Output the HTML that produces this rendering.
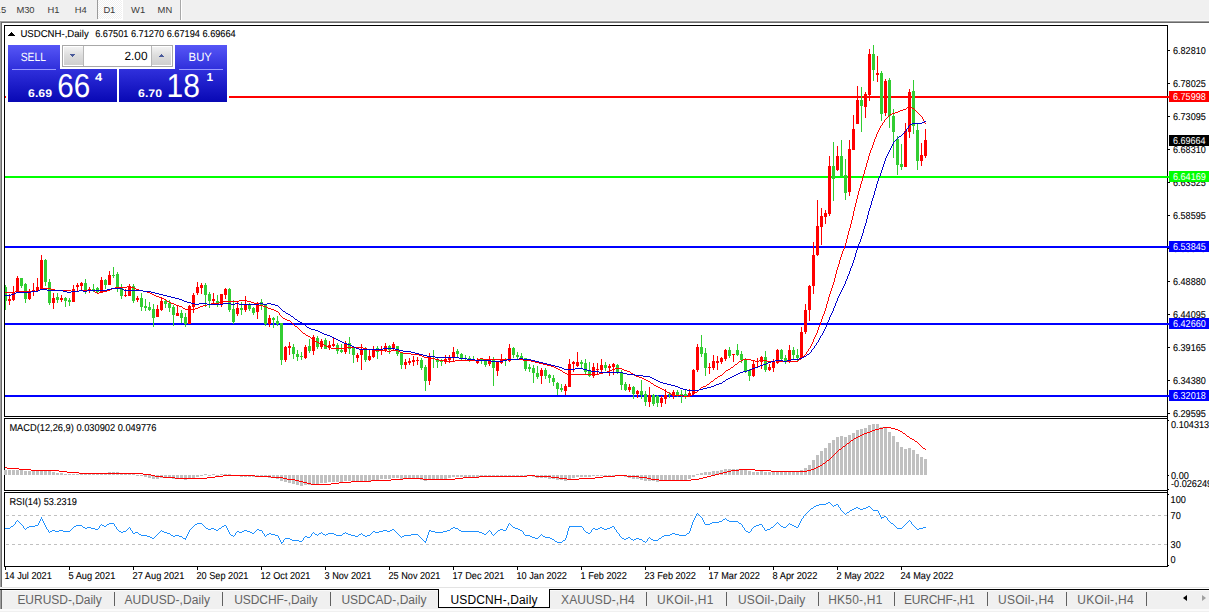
<!DOCTYPE html>
<html lang="en"><head><meta charset="utf-8"><title>USDCNH-,Daily</title>
<style>
html,body{margin:0;padding:0;background:#f0f0f0;}
body{width:1209px;height:612px;overflow:hidden;position:relative;font-family:"Liberation Sans",sans-serif;}
.toolbar{position:absolute;left:0;top:0;width:1209px;height:20px;background:#f0f0f0;}
.toolbar .hl{position:absolute;left:0;top:20px;width:1209px;height:1px;background:#f8f8f8}
.tf{position:absolute;top:3.5px;height:12px;line-height:12px;font-size:9.4px;color:#3a3a3a;white-space:nowrap;}
.tsep{position:absolute;top:0;width:1px;background:#9a9a9a}
.d1{position:absolute;left:98px;top:0;width:24px;height:19px;background:#f0f0f0 conic-gradient(#fff 25%,#f0f0f0 0 50%,#fff 0 75%,#f0f0f0 0) 0 0/2px 2px;border-right:1px solid #fff;border-bottom:1px solid #fff}
.chart{position:absolute;left:0;top:0;width:1209px;height:612px}
.chart svg{display:block;font-family:"Liberation Sans",sans-serif;text-rendering:geometricPrecision}
.tabs{position:absolute;left:0;top:589px;width:1209px;height:23px;background:#f0f0f0}
.tabs .line{position:absolute;left:0;top:0;width:1209px;height:1px;background:#000}
.tabs .hl{position:absolute;left:2px;top:1px;width:1209px;height:1px;background:#fafafa}
.tabs .lb{position:absolute;left:0;top:1px;width:1px;height:19px;background:#a0a0a0}
.tabs .lb2{position:absolute;left:1px;top:1px;width:1px;height:19px;background:#696969}
.tabs .foot{position:absolute;left:0;top:20px;width:1209px;height:2px;background:#fbfbfb}
.tab{position:absolute;top:3px;height:16px;line-height:16px;font-size:12px;color:#646464;white-space:nowrap;}
.tab.active{color:#000}
.abox{position:absolute;left:438px;top:0px;width:110px;height:18px;background:#fff;border:1px solid #000;border-top:none}
.sep{position:absolute;top:3px;width:1px;height:14px;background:#606060}
.arl{position:absolute;left:1183px;top:6px;width:0;height:0;border-top:3.5px solid transparent;border-bottom:3.5px solid transparent;border-right:4px solid #000}
.arr{position:absolute;left:1202px;top:6px;width:0;height:0;border-top:3.5px solid transparent;border-bottom:3.5px solid transparent;border-left:4px solid #a0a0a0}
</style></head>
<body>
<div class="toolbar">
<div class="d1"></div>
<i class="tsep" style="left:97px;height:19px"></i>
<i class="tsep" style="left:180px;height:21px;background:#a8a8a8"></i>
<i class="tsep" style="left:181px;height:21px;background:#fff"></i>
<span class="tf" style="left:-4.5px;letter-spacing:0.181px">15</span>
<span class="tf" style="left:16.5px;letter-spacing:-0.183px">M30</span>
<span class="tf" style="left:47.6px;letter-spacing:-0.192px">H1</span>
<span class="tf" style="left:74.8px;letter-spacing:0.008px">H4</span>
<span class="tf" style="left:103.6px;letter-spacing:-0.292px">D1</span>
<span class="tf" style="left:131.1px;letter-spacing:-0.031px">W1</span>
<span class="tf" style="left:157.6px;letter-spacing:0.053px">MN</span>
<div class="hl"></div>
</div>
<div class="chart">
<svg width="1209" height="612" viewBox="0 0 1209 612" shape-rendering="crispEdges" font-size="10">
<defs>
<clipPath id="cpm"><rect x="5" y="26" width="1162" height="390"/></clipPath>
<linearGradient id="gb" x1="0" y1="0" x2="0" y2="1"><stop offset="0" stop-color="#5656f6"/><stop offset="1" stop-color="#3030dc"/></linearGradient>
<linearGradient id="gb2" x1="0" y1="0" x2="0" y2="1"><stop offset="0" stop-color="#3030dc"/><stop offset="1" stop-color="#0808b4"/></linearGradient>
<linearGradient id="gg" x1="0" y1="0" x2="0" y2="1"><stop offset="0" stop-color="#f2f2f2"/><stop offset="0.5" stop-color="#dcdcdc"/><stop offset="1" stop-color="#cfcfcf"/></linearGradient>
</defs>
<rect x="0" y="21" width="1209" height="1" fill="#a0a0a0"/>
<rect x="1" y="22" width="1208" height="1" fill="#696969"/>
<rect x="0" y="21" width="1" height="566" fill="#a0a0a0"/>
<rect x="1" y="22" width="1" height="565" fill="#696969"/>
<rect x="2" y="23" width="1207" height="564" fill="#ffffff"/>
<rect x="2" y="587" width="1207" height="1" fill="#e3e3e3"/>
<rect x="2" y="588" width="1207" height="1" fill="#ffffff"/>
<rect x="4" y="25" width="1163" height="1" fill="#000"/>
<rect x="4" y="416" width="1164" height="1" fill="#000"/>
<rect x="4" y="25" width="1" height="392" fill="#000"/>
<rect x="4" y="418" width="1163" height="1" fill="#000"/>
<rect x="4" y="490" width="1164" height="1" fill="#000"/>
<rect x="4" y="418" width="1" height="73" fill="#000"/>
<rect x="4" y="492" width="1163" height="1" fill="#000"/>
<rect x="4" y="566" width="1164" height="1" fill="#000"/>
<rect x="4" y="492" width="1" height="75" fill="#000"/>
<rect x="1167" y="25" width="1" height="542" fill="#000"/>
<rect x="5" y="96" width="1164" height="2" fill="#ff0000"/>
<rect x="5" y="176" width="1164" height="2" fill="#00ff00"/>
<rect x="5" y="246" width="1164" height="2" fill="#0000ff"/>
<rect x="5" y="323" width="1164" height="2" fill="#0000ff"/>
<rect x="5" y="395" width="1164" height="2" fill="#0000ff"/>
<g id="main" clip-path="url(#cpm)">
<rect x="5" y="285" width="1" height="25" fill="#32cd32"/><rect x="4" y="287" width="3" height="14" fill="#32cd32"/><rect x="9" y="294" width="1" height="11" fill="#ff0000"/><rect x="8" y="299" width="3" height="2" fill="#ff0000"/><rect x="13" y="286" width="1" height="15" fill="#ff0000"/><rect x="12" y="292" width="3" height="8" fill="#ff0000"/><rect x="17" y="276" width="1" height="16" fill="#ff0000"/><rect x="16" y="278" width="3" height="13" fill="#ff0000"/><rect x="21" y="278" width="1" height="10" fill="#32cd32"/><rect x="20" y="278" width="3" height="8" fill="#32cd32"/><rect x="25" y="283" width="1" height="20" fill="#32cd32"/><rect x="24" y="284" width="3" height="15" fill="#32cd32"/><rect x="29" y="289" width="1" height="11" fill="#ff0000"/><rect x="28" y="291" width="3" height="8" fill="#ff0000"/><rect x="33" y="283" width="1" height="13" fill="#ff0000"/><rect x="32" y="290" width="3" height="2" fill="#ff0000"/><rect x="37" y="278" width="1" height="14" fill="#ff0000"/><rect x="36" y="287" width="3" height="4" fill="#ff0000"/><rect x="41" y="255" width="1" height="35" fill="#ff0000"/><rect x="40" y="260" width="3" height="29" fill="#ff0000"/><rect x="45" y="259" width="1" height="27" fill="#32cd32"/><rect x="44" y="260" width="3" height="22" fill="#32cd32"/><rect x="49" y="279" width="1" height="26" fill="#32cd32"/><rect x="48" y="282" width="3" height="21" fill="#32cd32"/><rect x="53" y="293" width="1" height="16" fill="#ff0000"/><rect x="52" y="298" width="3" height="5" fill="#ff0000"/><rect x="57" y="293" width="1" height="10" fill="#32cd32"/><rect x="56" y="297" width="3" height="3" fill="#32cd32"/><rect x="61" y="295" width="1" height="7" fill="#ff0000"/><rect x="60" y="298" width="3" height="2" fill="#ff0000"/><rect x="65" y="297" width="1" height="10" fill="#32cd32"/><rect x="64" y="298" width="3" height="3" fill="#32cd32"/><rect x="69" y="298" width="1" height="8" fill="#32cd32"/><rect x="68" y="300" width="3" height="2" fill="#32cd32"/><rect x="73" y="285" width="1" height="17" fill="#ff0000"/><rect x="72" y="289" width="3" height="13" fill="#ff0000"/><rect x="77" y="283" width="1" height="9" fill="#ff0000"/><rect x="76" y="285" width="3" height="2" fill="#ff0000"/><rect x="81" y="282" width="1" height="9" fill="#ff0000"/><rect x="80" y="283" width="3" height="3" fill="#ff0000"/><rect x="85" y="279" width="1" height="15" fill="#32cd32"/><rect x="84" y="283" width="3" height="8" fill="#32cd32"/><rect x="89" y="287" width="1" height="6" fill="#ff0000"/><rect x="88" y="289" width="3" height="2" fill="#ff0000"/><rect x="93" y="284" width="1" height="8" fill="#32cd32"/><rect x="92" y="289" width="3" height="2" fill="#32cd32"/><rect x="97" y="287" width="1" height="7" fill="#32cd32"/><rect x="96" y="288" width="3" height="4" fill="#32cd32"/><rect x="101" y="277" width="1" height="15" fill="#ff0000"/><rect x="100" y="280" width="3" height="12" fill="#ff0000"/><rect x="105" y="279" width="1" height="10" fill="#32cd32"/><rect x="104" y="280" width="3" height="5" fill="#32cd32"/><rect x="109" y="271" width="1" height="14" fill="#ff0000"/><rect x="108" y="275" width="3" height="10" fill="#ff0000"/><rect x="113" y="267" width="1" height="11" fill="#32cd32"/><rect x="112" y="275" width="3" height="1" fill="#32cd32"/><rect x="117" y="272" width="1" height="20" fill="#32cd32"/><rect x="116" y="274" width="3" height="15" fill="#32cd32"/><rect x="121" y="284" width="1" height="15" fill="#32cd32"/><rect x="120" y="287" width="3" height="9" fill="#32cd32"/><rect x="125" y="289" width="1" height="8" fill="#ff0000"/><rect x="124" y="295" width="3" height="1" fill="#ff0000"/><rect x="129" y="284" width="1" height="12" fill="#ff0000"/><rect x="128" y="286" width="3" height="10" fill="#ff0000"/><rect x="133" y="284" width="1" height="19" fill="#32cd32"/><rect x="132" y="286" width="3" height="15" fill="#32cd32"/><rect x="137" y="296" width="1" height="6" fill="#ff0000"/><rect x="136" y="298" width="3" height="2" fill="#ff0000"/><rect x="141" y="293" width="1" height="18" fill="#32cd32"/><rect x="140" y="298" width="3" height="9" fill="#32cd32"/><rect x="145" y="299" width="1" height="12" fill="#32cd32"/><rect x="144" y="306" width="3" height="2" fill="#32cd32"/><rect x="149" y="302" width="1" height="9" fill="#32cd32"/><rect x="148" y="307" width="3" height="3" fill="#32cd32"/><rect x="153" y="304" width="1" height="23" fill="#32cd32"/><rect x="152" y="309" width="3" height="9" fill="#32cd32"/><rect x="157" y="305" width="1" height="12" fill="#ff0000"/><rect x="156" y="309" width="3" height="8" fill="#ff0000"/><rect x="161" y="297" width="1" height="14" fill="#ff0000"/><rect x="160" y="301" width="3" height="9" fill="#ff0000"/><rect x="165" y="299" width="1" height="9" fill="#32cd32"/><rect x="164" y="301" width="3" height="3" fill="#32cd32"/><rect x="169" y="300" width="1" height="12" fill="#32cd32"/><rect x="168" y="303" width="3" height="5" fill="#32cd32"/><rect x="173" y="305" width="1" height="21" fill="#32cd32"/><rect x="172" y="307" width="3" height="8" fill="#32cd32"/><rect x="177" y="305" width="1" height="11" fill="#ff0000"/><rect x="176" y="313" width="3" height="3" fill="#ff0000"/><rect x="181" y="310" width="1" height="13" fill="#32cd32"/><rect x="180" y="313" width="3" height="5" fill="#32cd32"/><rect x="185" y="313" width="1" height="14" fill="#32cd32"/><rect x="184" y="317" width="3" height="7" fill="#32cd32"/><rect x="189" y="305" width="1" height="19" fill="#ff0000"/><rect x="188" y="306" width="3" height="18" fill="#ff0000"/><rect x="193" y="293" width="1" height="20" fill="#ff0000"/><rect x="192" y="295" width="3" height="12" fill="#ff0000"/><rect x="197" y="282" width="1" height="13" fill="#ff0000"/><rect x="196" y="287" width="3" height="6" fill="#ff0000"/><rect x="201" y="283" width="1" height="11" fill="#ff0000"/><rect x="200" y="285" width="3" height="3" fill="#ff0000"/><rect x="205" y="283" width="1" height="24" fill="#32cd32"/><rect x="204" y="285" width="3" height="10" fill="#32cd32"/><rect x="209" y="292" width="1" height="16" fill="#32cd32"/><rect x="208" y="294" width="3" height="7" fill="#32cd32"/><rect x="213" y="293" width="1" height="11" fill="#ff0000"/><rect x="212" y="299" width="3" height="2" fill="#ff0000"/><rect x="217" y="295" width="1" height="12" fill="#32cd32"/><rect x="216" y="301" width="3" height="2" fill="#32cd32"/><rect x="221" y="294" width="1" height="13" fill="#ff0000"/><rect x="220" y="294" width="3" height="10" fill="#ff0000"/><rect x="225" y="288" width="1" height="11" fill="#ff0000"/><rect x="224" y="289" width="3" height="6" fill="#ff0000"/><rect x="229" y="288" width="1" height="24" fill="#32cd32"/><rect x="228" y="289" width="3" height="21" fill="#32cd32"/><rect x="233" y="300" width="1" height="24" fill="#32cd32"/><rect x="232" y="309" width="3" height="13" fill="#32cd32"/><rect x="237" y="301" width="1" height="15" fill="#ff0000"/><rect x="236" y="308" width="3" height="6" fill="#ff0000"/><rect x="241" y="302" width="1" height="13" fill="#32cd32"/><rect x="240" y="308" width="3" height="2" fill="#32cd32"/><rect x="245" y="296" width="1" height="16" fill="#ff0000"/><rect x="244" y="304" width="3" height="6" fill="#ff0000"/><rect x="249" y="303" width="1" height="8" fill="#32cd32"/><rect x="248" y="305" width="3" height="4" fill="#32cd32"/><rect x="253" y="307" width="1" height="8" fill="#32cd32"/><rect x="252" y="308" width="3" height="5" fill="#32cd32"/><rect x="257" y="302" width="1" height="17" fill="#ff0000"/><rect x="256" y="303" width="3" height="9" fill="#ff0000"/><rect x="261" y="299" width="1" height="11" fill="#32cd32"/><rect x="260" y="302" width="3" height="4" fill="#32cd32"/><rect x="265" y="304" width="1" height="22" fill="#32cd32"/><rect x="264" y="304" width="3" height="20" fill="#32cd32"/><rect x="269" y="315" width="1" height="12" fill="#ff0000"/><rect x="268" y="318" width="3" height="6" fill="#ff0000"/><rect x="273" y="317" width="1" height="11" fill="#32cd32"/><rect x="272" y="318" width="3" height="2" fill="#32cd32"/><rect x="277" y="316" width="1" height="10" fill="#32cd32"/><rect x="276" y="321" width="3" height="3" fill="#32cd32"/><rect x="281" y="323" width="1" height="42" fill="#32cd32"/><rect x="280" y="323" width="3" height="37" fill="#32cd32"/><rect x="285" y="346" width="1" height="16" fill="#ff0000"/><rect x="284" y="347" width="3" height="13" fill="#ff0000"/><rect x="289" y="342" width="1" height="13" fill="#ff0000"/><rect x="288" y="346" width="3" height="2" fill="#ff0000"/><rect x="293" y="344" width="1" height="15" fill="#32cd32"/><rect x="292" y="347" width="3" height="7" fill="#32cd32"/><rect x="297" y="350" width="1" height="11" fill="#32cd32"/><rect x="296" y="354" width="3" height="3" fill="#32cd32"/><rect x="301" y="352" width="1" height="8" fill="#32cd32"/><rect x="300" y="356" width="3" height="1" fill="#32cd32"/><rect x="305" y="345" width="1" height="14" fill="#ff0000"/><rect x="304" y="347" width="3" height="11" fill="#ff0000"/><rect x="309" y="339" width="1" height="14" fill="#32cd32"/><rect x="308" y="346" width="3" height="5" fill="#32cd32"/><rect x="313" y="335" width="1" height="20" fill="#ff0000"/><rect x="312" y="337" width="3" height="14" fill="#ff0000"/><rect x="317" y="336" width="1" height="13" fill="#32cd32"/><rect x="316" y="338" width="3" height="9" fill="#32cd32"/><rect x="321" y="339" width="1" height="10" fill="#ff0000"/><rect x="320" y="341" width="3" height="6" fill="#ff0000"/><rect x="325" y="338" width="1" height="11" fill="#32cd32"/><rect x="324" y="340" width="3" height="9" fill="#32cd32"/><rect x="329" y="341" width="1" height="9" fill="#ff0000"/><rect x="328" y="345" width="3" height="3" fill="#ff0000"/><rect x="333" y="337" width="1" height="10" fill="#ff0000"/><rect x="332" y="344" width="3" height="2" fill="#ff0000"/><rect x="337" y="343" width="1" height="11" fill="#32cd32"/><rect x="336" y="345" width="3" height="6" fill="#32cd32"/><rect x="341" y="344" width="1" height="9" fill="#32cd32"/><rect x="340" y="350" width="3" height="2" fill="#32cd32"/><rect x="345" y="341" width="1" height="13" fill="#ff0000"/><rect x="344" y="343" width="3" height="9" fill="#ff0000"/><rect x="349" y="337" width="1" height="17" fill="#32cd32"/><rect x="348" y="343" width="3" height="6" fill="#32cd32"/><rect x="353" y="346" width="1" height="17" fill="#32cd32"/><rect x="352" y="348" width="3" height="7" fill="#32cd32"/><rect x="357" y="353" width="1" height="9" fill="#ff0000"/><rect x="356" y="355" width="3" height="3" fill="#ff0000"/><rect x="361" y="344" width="1" height="26" fill="#ff0000"/><rect x="360" y="349" width="3" height="6" fill="#ff0000"/><rect x="365" y="347" width="1" height="15" fill="#32cd32"/><rect x="364" y="348" width="3" height="12" fill="#32cd32"/><rect x="369" y="349" width="1" height="12" fill="#ff0000"/><rect x="368" y="356" width="3" height="4" fill="#ff0000"/><rect x="373" y="346" width="1" height="12" fill="#ff0000"/><rect x="372" y="349" width="3" height="8" fill="#ff0000"/><rect x="377" y="346" width="1" height="13" fill="#32cd32"/><rect x="376" y="348" width="3" height="4" fill="#32cd32"/><rect x="381" y="346" width="1" height="9" fill="#ff0000"/><rect x="380" y="349" width="3" height="1" fill="#ff0000"/><rect x="385" y="343" width="1" height="9" fill="#ff0000"/><rect x="384" y="346" width="3" height="4" fill="#ff0000"/><rect x="389" y="345" width="1" height="9" fill="#32cd32"/><rect x="388" y="346" width="3" height="4" fill="#32cd32"/><rect x="393" y="342" width="1" height="8" fill="#ff0000"/><rect x="392" y="344" width="3" height="5" fill="#ff0000"/><rect x="397" y="346" width="1" height="10" fill="#32cd32"/><rect x="396" y="346" width="3" height="8" fill="#32cd32"/><rect x="401" y="353" width="1" height="16" fill="#32cd32"/><rect x="400" y="353" width="3" height="12" fill="#32cd32"/><rect x="405" y="359" width="1" height="10" fill="#ff0000"/><rect x="404" y="362" width="3" height="3" fill="#ff0000"/><rect x="409" y="358" width="1" height="7" fill="#ff0000"/><rect x="408" y="361" width="3" height="2" fill="#ff0000"/><rect x="413" y="356" width="1" height="10" fill="#ff0000"/><rect x="412" y="360" width="3" height="2" fill="#ff0000"/><rect x="417" y="357" width="1" height="8" fill="#ff0000"/><rect x="416" y="360" width="3" height="1" fill="#ff0000"/><rect x="421" y="358" width="1" height="12" fill="#32cd32"/><rect x="420" y="360" width="3" height="8" fill="#32cd32"/><rect x="425" y="365" width="1" height="26" fill="#32cd32"/><rect x="424" y="367" width="3" height="14" fill="#32cd32"/><rect x="429" y="353" width="1" height="32" fill="#ff0000"/><rect x="428" y="357" width="3" height="24" fill="#ff0000"/><rect x="433" y="350" width="1" height="18" fill="#32cd32"/><rect x="432" y="358" width="3" height="1" fill="#32cd32"/><rect x="437" y="358" width="1" height="10" fill="#32cd32"/><rect x="436" y="359" width="3" height="3" fill="#32cd32"/><rect x="441" y="359" width="1" height="7" fill="#32cd32"/><rect x="440" y="360" width="3" height="2" fill="#32cd32"/><rect x="445" y="355" width="1" height="9" fill="#ff0000"/><rect x="444" y="359" width="3" height="3" fill="#ff0000"/><rect x="449" y="355" width="1" height="8" fill="#ff0000"/><rect x="448" y="357" width="3" height="3" fill="#ff0000"/><rect x="453" y="347" width="1" height="14" fill="#ff0000"/><rect x="452" y="352" width="3" height="5" fill="#ff0000"/><rect x="457" y="349" width="1" height="8" fill="#32cd32"/><rect x="456" y="351" width="3" height="3" fill="#32cd32"/><rect x="461" y="353" width="1" height="8" fill="#32cd32"/><rect x="460" y="354" width="3" height="5" fill="#32cd32"/><rect x="465" y="355" width="1" height="6" fill="#32cd32"/><rect x="464" y="358" width="3" height="1" fill="#32cd32"/><rect x="469" y="356" width="1" height="6" fill="#32cd32"/><rect x="468" y="358" width="3" height="2" fill="#32cd32"/><rect x="473" y="356" width="1" height="5" fill="#32cd32"/><rect x="472" y="359" width="3" height="1" fill="#32cd32"/><rect x="477" y="358" width="1" height="6" fill="#ff0000"/><rect x="476" y="360" width="3" height="3" fill="#ff0000"/><rect x="481" y="358" width="1" height="6" fill="#32cd32"/><rect x="480" y="359" width="3" height="2" fill="#32cd32"/><rect x="485" y="360" width="1" height="7" fill="#32cd32"/><rect x="484" y="360" width="3" height="5" fill="#32cd32"/><rect x="489" y="356" width="1" height="10" fill="#ff0000"/><rect x="488" y="359" width="3" height="5" fill="#ff0000"/><rect x="493" y="357" width="1" height="29" fill="#32cd32"/><rect x="492" y="359" width="3" height="9" fill="#32cd32"/><rect x="497" y="361" width="1" height="15" fill="#ff0000"/><rect x="496" y="361" width="3" height="10" fill="#ff0000"/><rect x="501" y="354" width="1" height="10" fill="#ff0000"/><rect x="500" y="359" width="3" height="4" fill="#ff0000"/><rect x="505" y="358" width="1" height="8" fill="#32cd32"/><rect x="504" y="360" width="3" height="1" fill="#32cd32"/><rect x="509" y="344" width="1" height="18" fill="#ff0000"/><rect x="508" y="348" width="3" height="13" fill="#ff0000"/><rect x="513" y="347" width="1" height="11" fill="#32cd32"/><rect x="512" y="348" width="3" height="7" fill="#32cd32"/><rect x="517" y="352" width="1" height="7" fill="#32cd32"/><rect x="516" y="355" width="3" height="2" fill="#32cd32"/><rect x="521" y="353" width="1" height="7" fill="#32cd32"/><rect x="520" y="356" width="3" height="3" fill="#32cd32"/><rect x="525" y="358" width="1" height="13" fill="#32cd32"/><rect x="524" y="358" width="3" height="11" fill="#32cd32"/><rect x="529" y="364" width="1" height="8" fill="#32cd32"/><rect x="528" y="367" width="3" height="2" fill="#32cd32"/><rect x="533" y="365" width="1" height="18" fill="#32cd32"/><rect x="532" y="368" width="3" height="5" fill="#32cd32"/><rect x="537" y="366" width="1" height="13" fill="#32cd32"/><rect x="536" y="373" width="3" height="4" fill="#32cd32"/><rect x="541" y="368" width="1" height="16" fill="#ff0000"/><rect x="540" y="370" width="3" height="6" fill="#ff0000"/><rect x="545" y="368" width="1" height="11" fill="#32cd32"/><rect x="544" y="370" width="3" height="6" fill="#32cd32"/><rect x="549" y="374" width="1" height="9" fill="#32cd32"/><rect x="548" y="375" width="3" height="3" fill="#32cd32"/><rect x="553" y="375" width="1" height="11" fill="#32cd32"/><rect x="552" y="378" width="3" height="4" fill="#32cd32"/><rect x="557" y="382" width="1" height="13" fill="#32cd32"/><rect x="556" y="383" width="3" height="6" fill="#32cd32"/><rect x="561" y="384" width="1" height="8" fill="#32cd32"/><rect x="560" y="388" width="3" height="2" fill="#32cd32"/><rect x="565" y="384" width="1" height="11" fill="#ff0000"/><rect x="564" y="386" width="3" height="5" fill="#ff0000"/><rect x="569" y="359" width="1" height="28" fill="#ff0000"/><rect x="568" y="364" width="3" height="23" fill="#ff0000"/><rect x="573" y="361" width="1" height="11" fill="#ff0000"/><rect x="572" y="362" width="3" height="2" fill="#ff0000"/><rect x="577" y="352" width="1" height="15" fill="#ff0000"/><rect x="576" y="362" width="3" height="4" fill="#ff0000"/><rect x="581" y="360" width="1" height="8" fill="#32cd32"/><rect x="580" y="362" width="3" height="2" fill="#32cd32"/><rect x="585" y="359" width="1" height="15" fill="#32cd32"/><rect x="584" y="363" width="3" height="9" fill="#32cd32"/><rect x="589" y="362" width="1" height="15" fill="#32cd32"/><rect x="588" y="371" width="3" height="5" fill="#32cd32"/><rect x="593" y="363" width="1" height="15" fill="#ff0000"/><rect x="592" y="367" width="3" height="9" fill="#ff0000"/><rect x="597" y="363" width="1" height="11" fill="#ff0000"/><rect x="596" y="369" width="3" height="1" fill="#ff0000"/><rect x="601" y="359" width="1" height="14" fill="#ff0000"/><rect x="600" y="365" width="3" height="5" fill="#ff0000"/><rect x="605" y="362" width="1" height="9" fill="#32cd32"/><rect x="604" y="365" width="3" height="3" fill="#32cd32"/><rect x="609" y="364" width="1" height="12" fill="#ff0000"/><rect x="608" y="366" width="3" height="2" fill="#ff0000"/><rect x="613" y="363" width="1" height="12" fill="#ff0000"/><rect x="612" y="364" width="3" height="3" fill="#ff0000"/><rect x="617" y="364" width="1" height="10" fill="#32cd32"/><rect x="616" y="365" width="3" height="8" fill="#32cd32"/><rect x="621" y="370" width="1" height="20" fill="#32cd32"/><rect x="620" y="372" width="3" height="13" fill="#32cd32"/><rect x="625" y="382" width="1" height="9" fill="#32cd32"/><rect x="624" y="384" width="3" height="6" fill="#32cd32"/><rect x="629" y="384" width="1" height="8" fill="#ff0000"/><rect x="628" y="387" width="3" height="3" fill="#ff0000"/><rect x="633" y="386" width="1" height="13" fill="#32cd32"/><rect x="632" y="387" width="3" height="7" fill="#32cd32"/><rect x="637" y="390" width="1" height="8" fill="#ff0000"/><rect x="636" y="391" width="3" height="3" fill="#ff0000"/><rect x="641" y="380" width="1" height="19" fill="#32cd32"/><rect x="640" y="391" width="3" height="4" fill="#32cd32"/><rect x="645" y="391" width="1" height="15" fill="#32cd32"/><rect x="644" y="394" width="3" height="8" fill="#32cd32"/><rect x="649" y="387" width="1" height="20" fill="#ff0000"/><rect x="648" y="395" width="3" height="7" fill="#ff0000"/><rect x="653" y="394" width="1" height="12" fill="#32cd32"/><rect x="652" y="395" width="3" height="9" fill="#32cd32"/><rect x="657" y="395" width="1" height="12" fill="#32cd32"/><rect x="656" y="396" width="3" height="7" fill="#32cd32"/><rect x="661" y="396" width="1" height="11" fill="#ff0000"/><rect x="660" y="398" width="3" height="5" fill="#ff0000"/><rect x="665" y="389" width="1" height="15" fill="#ff0000"/><rect x="664" y="395" width="3" height="4" fill="#ff0000"/><rect x="669" y="392" width="1" height="6" fill="#32cd32"/><rect x="668" y="394" width="3" height="1" fill="#32cd32"/><rect x="673" y="390" width="1" height="9" fill="#ff0000"/><rect x="672" y="392" width="3" height="4" fill="#ff0000"/><rect x="677" y="390" width="1" height="7" fill="#32cd32"/><rect x="676" y="392" width="3" height="3" fill="#32cd32"/><rect x="681" y="390" width="1" height="13" fill="#32cd32"/><rect x="680" y="394" width="3" height="1" fill="#32cd32"/><rect x="685" y="390" width="1" height="9" fill="#32cd32"/><rect x="684" y="394" width="3" height="2" fill="#32cd32"/><rect x="689" y="389" width="1" height="8" fill="#ff0000"/><rect x="688" y="393" width="3" height="3" fill="#ff0000"/><rect x="693" y="369" width="1" height="26" fill="#ff0000"/><rect x="692" y="370" width="3" height="24" fill="#ff0000"/><rect x="697" y="344" width="1" height="28" fill="#ff0000"/><rect x="696" y="347" width="3" height="23" fill="#ff0000"/><rect x="701" y="335" width="1" height="22" fill="#32cd32"/><rect x="700" y="347" width="3" height="7" fill="#32cd32"/><rect x="705" y="348" width="1" height="28" fill="#32cd32"/><rect x="704" y="353" width="3" height="15" fill="#32cd32"/><rect x="709" y="363" width="1" height="11" fill="#ff0000"/><rect x="708" y="367" width="3" height="1" fill="#ff0000"/><rect x="713" y="355" width="1" height="15" fill="#ff0000"/><rect x="712" y="361" width="3" height="7" fill="#ff0000"/><rect x="717" y="356" width="1" height="14" fill="#ff0000"/><rect x="716" y="361" width="3" height="2" fill="#ff0000"/><rect x="721" y="357" width="1" height="7" fill="#ff0000"/><rect x="720" y="358" width="3" height="4" fill="#ff0000"/><rect x="725" y="349" width="1" height="12" fill="#ff0000"/><rect x="724" y="350" width="3" height="9" fill="#ff0000"/><rect x="729" y="347" width="1" height="11" fill="#32cd32"/><rect x="728" y="350" width="3" height="6" fill="#32cd32"/><rect x="733" y="354" width="1" height="8" fill="#ff0000"/><rect x="732" y="354" width="3" height="1" fill="#ff0000"/><rect x="737" y="344" width="1" height="12" fill="#32cd32"/><rect x="736" y="350" width="3" height="5" fill="#32cd32"/><rect x="741" y="351" width="1" height="12" fill="#32cd32"/><rect x="740" y="354" width="3" height="6" fill="#32cd32"/><rect x="745" y="358" width="1" height="15" fill="#32cd32"/><rect x="744" y="359" width="3" height="12" fill="#32cd32"/><rect x="749" y="369" width="1" height="12" fill="#32cd32"/><rect x="748" y="370" width="3" height="6" fill="#32cd32"/><rect x="753" y="361" width="1" height="16" fill="#ff0000"/><rect x="752" y="364" width="3" height="12" fill="#ff0000"/><rect x="757" y="358" width="1" height="9" fill="#ff0000"/><rect x="756" y="361" width="3" height="1" fill="#ff0000"/><rect x="761" y="356" width="1" height="13" fill="#ff0000"/><rect x="760" y="357" width="3" height="5" fill="#ff0000"/><rect x="765" y="351" width="1" height="21" fill="#32cd32"/><rect x="764" y="357" width="3" height="13" fill="#32cd32"/><rect x="769" y="364" width="1" height="7" fill="#ff0000"/><rect x="768" y="367" width="3" height="3" fill="#ff0000"/><rect x="773" y="359" width="1" height="13" fill="#ff0000"/><rect x="772" y="362" width="3" height="6" fill="#ff0000"/><rect x="777" y="349" width="1" height="15" fill="#ff0000"/><rect x="776" y="350" width="3" height="13" fill="#ff0000"/><rect x="781" y="349" width="1" height="12" fill="#32cd32"/><rect x="780" y="350" width="3" height="9" fill="#32cd32"/><rect x="785" y="355" width="1" height="9" fill="#32cd32"/><rect x="784" y="358" width="3" height="3" fill="#32cd32"/><rect x="789" y="345" width="1" height="18" fill="#ff0000"/><rect x="788" y="350" width="3" height="12" fill="#ff0000"/><rect x="793" y="347" width="1" height="12" fill="#32cd32"/><rect x="792" y="350" width="3" height="5" fill="#32cd32"/><rect x="797" y="349" width="1" height="12" fill="#32cd32"/><rect x="796" y="355" width="3" height="3" fill="#32cd32"/><rect x="801" y="327" width="1" height="31" fill="#ff0000"/><rect x="800" y="332" width="3" height="26" fill="#ff0000"/><rect x="805" y="304" width="1" height="30" fill="#ff0000"/><rect x="804" y="310" width="3" height="22" fill="#ff0000"/><rect x="809" y="285" width="1" height="36" fill="#ff0000"/><rect x="808" y="286" width="3" height="24" fill="#ff0000"/><rect x="813" y="242" width="1" height="52" fill="#ff0000"/><rect x="812" y="255" width="3" height="31" fill="#ff0000"/><rect x="817" y="200" width="1" height="56" fill="#ff0000"/><rect x="816" y="226" width="3" height="29" fill="#ff0000"/><rect x="821" y="208" width="1" height="37" fill="#ff0000"/><rect x="820" y="216" width="3" height="11" fill="#ff0000"/><rect x="825" y="210" width="1" height="14" fill="#ff0000"/><rect x="824" y="213" width="3" height="4" fill="#ff0000"/><rect x="829" y="156" width="1" height="60" fill="#ff0000"/><rect x="828" y="166" width="3" height="48" fill="#ff0000"/><rect x="833" y="142" width="1" height="59" fill="#32cd32"/><rect x="832" y="166" width="3" height="13" fill="#32cd32"/><rect x="837" y="146" width="1" height="25" fill="#ff0000"/><rect x="836" y="156" width="3" height="14" fill="#ff0000"/><rect x="841" y="140" width="1" height="37" fill="#32cd32"/><rect x="840" y="156" width="3" height="20" fill="#32cd32"/><rect x="845" y="159" width="1" height="41" fill="#32cd32"/><rect x="844" y="175" width="3" height="18" fill="#32cd32"/><rect x="849" y="140" width="1" height="56" fill="#ff0000"/><rect x="848" y="149" width="3" height="43" fill="#ff0000"/><rect x="853" y="115" width="1" height="35" fill="#ff0000"/><rect x="852" y="129" width="3" height="21" fill="#ff0000"/><rect x="857" y="86" width="1" height="38" fill="#ff0000"/><rect x="856" y="100" width="3" height="24" fill="#ff0000"/><rect x="861" y="87" width="1" height="45" fill="#32cd32"/><rect x="860" y="100" width="3" height="6" fill="#32cd32"/><rect x="865" y="92" width="1" height="26" fill="#ff0000"/><rect x="864" y="94" width="3" height="13" fill="#ff0000"/><rect x="869" y="49" width="1" height="52" fill="#ff0000"/><rect x="868" y="54" width="3" height="41" fill="#ff0000"/><rect x="873" y="45" width="1" height="36" fill="#32cd32"/><rect x="872" y="54" width="3" height="16" fill="#32cd32"/><rect x="877" y="56" width="1" height="26" fill="#ff0000"/><rect x="876" y="73" width="3" height="2" fill="#ff0000"/><rect x="881" y="71" width="1" height="50" fill="#32cd32"/><rect x="880" y="73" width="3" height="41" fill="#32cd32"/><rect x="885" y="79" width="1" height="37" fill="#ff0000"/><rect x="884" y="81" width="3" height="32" fill="#ff0000"/><rect x="889" y="78" width="1" height="50" fill="#32cd32"/><rect x="888" y="80" width="3" height="36" fill="#32cd32"/><rect x="893" y="109" width="1" height="49" fill="#32cd32"/><rect x="892" y="116" width="3" height="16" fill="#32cd32"/><rect x="897" y="136" width="1" height="39" fill="#32cd32"/><rect x="896" y="139" width="3" height="26" fill="#32cd32"/><rect x="901" y="144" width="1" height="26" fill="#32cd32"/><rect x="900" y="164" width="3" height="3" fill="#32cd32"/><rect x="905" y="123" width="1" height="44" fill="#ff0000"/><rect x="904" y="131" width="3" height="36" fill="#ff0000"/><rect x="909" y="89" width="1" height="49" fill="#ff0000"/><rect x="908" y="92" width="3" height="40" fill="#ff0000"/><rect x="913" y="80" width="1" height="54" fill="#32cd32"/><rect x="912" y="91" width="3" height="35" fill="#32cd32"/><rect x="917" y="123" width="1" height="47" fill="#32cd32"/><rect x="916" y="130" width="3" height="31" fill="#32cd32"/><rect x="921" y="143" width="1" height="23" fill="#ff0000"/><rect x="920" y="155" width="3" height="6" fill="#ff0000"/><rect x="925" y="129" width="1" height="29" fill="#ff0000"/><rect x="924" y="140" width="3" height="16" fill="#ff0000"/>
<path d="M909 106.5h1M907 107.5h2M910 107.5h2M906 108.5h1M912 108.5h2M903 109.5h3M914 109.5h1M900 110.5h3M915 110.5h1M898 111.5h2M916 111.5h1M895 112.5h3M917 112.5h1M892 113.5h3M918 113.5h1M890 114.5h2M919 114.5h1M889 115.5h1M920 115.5h1M888 116.5h1M921 116.5h1M887 117.5h1M922 117.5h1M886 118.5h1M922 118.5h1M885 119.5h1M923 119.5h1M884 120.5h1M923 120.5h1M884 121.5h1M924 121.5h1M883 122.5h1M924 122.5h1M882 123.5h1M925 123.5h1M882 124.5h1M881 125.5h1M880 126.5h1M880 127.5h1M879 128.5h1M879 129.5h1M878 130.5h1M878 131.5h1M877 132.5h1M877 133.5h1M876 134.5h1M876 135.5h1M876 136.5h1M875 137.5h1M875 138.5h1M874 139.5h1M874 140.5h1M874 141.5h1M873 142.5h1M873 143.5h1M873 144.5h1M872 145.5h1M872 146.5h1M872 147.5h1M871 148.5h1M871 149.5h1M870 150.5h1M870 151.5h1M870 152.5h1M869 153.5h1M869 154.5h1M869 155.5h1M868 156.5h1M868 157.5h1M868 158.5h1M868 159.5h1M867 160.5h1M867 161.5h1M867 162.5h1M866 163.5h1M866 164.5h1M866 165.5h1M866 166.5h1M865 167.5h1M865 168.5h1M865 169.5h1M864 170.5h1M864 171.5h1M864 172.5h1M864 173.5h1M863 174.5h1M863 175.5h1M863 176.5h1M862 177.5h1M862 178.5h1M862 179.5h1M862 180.5h1M861 181.5h1M861 182.5h1M861 183.5h1M860 184.5h1M860 185.5h1M860 186.5h1M860 187.5h1M859 188.5h1M859 189.5h1M859 190.5h1M858 191.5h1M858 192.5h1M858 193.5h1M858 194.5h1M857 195.5h1M857 196.5h1M857 197.5h1M857 198.5h1M856 199.5h1M856 200.5h1M856 201.5h1M856 202.5h1M855 203.5h1M855 204.5h1M855 205.5h1M855 206.5h1M854 207.5h1M854 208.5h1M854 209.5h1M854 210.5h1M853 211.5h1M853 212.5h1M853 213.5h1M853 214.5h1M853 215.5h1M852 216.5h1M852 217.5h1M852 218.5h1M852 219.5h1M851 220.5h1M851 221.5h1M851 222.5h1M851 223.5h1M850 224.5h1M850 225.5h1M850 226.5h1M850 227.5h1M849 228.5h1M849 229.5h1M849 230.5h1M848 231.5h1M848 232.5h1M848 233.5h1M848 234.5h1M847 235.5h1M847 236.5h1M847 237.5h1M847 238.5h1M846 239.5h1M846 240.5h1M846 241.5h1M846 242.5h1M845 243.5h1M845 244.5h1M845 245.5h1M844 246.5h1M844 247.5h1M844 248.5h1M843 249.5h1M843 250.5h1M842 251.5h1M842 252.5h1M842 253.5h1M841 254.5h1M841 255.5h1M841 256.5h1M840 257.5h1M840 258.5h1M840 259.5h1M839 260.5h1M839 261.5h1M839 262.5h1M839 263.5h1M838 264.5h1M838 265.5h1M838 266.5h1M837 267.5h1M837 268.5h1M837 269.5h1M836 270.5h1M836 271.5h1M836 272.5h1M836 273.5h1M835 274.5h1M835 275.5h1M835 276.5h1M835 277.5h1M834 278.5h1M834 279.5h1M834 280.5h1M834 281.5h1M833 282.5h1M833 283.5h1M833 284.5h1M832 285.5h1M127 286.5h4M832 286.5h1M115 287.5h12M131 287.5h3M832 287.5h1M43 288.5h8M112 288.5h3M134 288.5h2M831 288.5h1M40 289.5h3M51 289.5h4M110 289.5h2M136 289.5h3M831 289.5h1M38 290.5h2M55 290.5h16M79 290.5h15M107 290.5h3M139 290.5h4M831 290.5h1M15 291.5h23M71 291.5h8M94 291.5h1M103 291.5h4M143 291.5h4M830 291.5h1M5 292.5h10M95 292.5h2M99 292.5h4M147 292.5h3M830 292.5h1M97 293.5h2M150 293.5h2M830 293.5h1M152 294.5h2M829 294.5h1M154 295.5h2M829 295.5h1M156 296.5h3M829 296.5h1M159 297.5h3M828 297.5h1M162 298.5h2M828 298.5h1M164 299.5h2M828 299.5h1M166 300.5h1M239 300.5h8M828 300.5h1M167 301.5h2M223 301.5h16M247 301.5h4M827 301.5h1M169 302.5h2M219 302.5h4M251 302.5h3M827 302.5h1M171 303.5h3M211 303.5h8M254 303.5h2M827 303.5h1M174 304.5h2M207 304.5h4M256 304.5h3M826 304.5h1M176 305.5h3M203 305.5h4M259 305.5h4M826 305.5h1M179 306.5h3M200 306.5h3M263 306.5h3M826 306.5h1M182 307.5h1M198 307.5h2M266 307.5h2M826 307.5h1M183 308.5h2M195 308.5h3M268 308.5h3M825 308.5h1M185 309.5h10M271 309.5h3M825 309.5h1M274 310.5h2M825 310.5h1M276 311.5h2M824 311.5h1M278 312.5h1M824 312.5h1M279 313.5h1M824 313.5h1M279 314.5h1M823 314.5h1M280 315.5h1M823 315.5h1M281 316.5h1M822 316.5h1M282 317.5h1M822 317.5h1M283 318.5h2M822 318.5h1M285 319.5h2M821 319.5h1M287 320.5h3M821 320.5h1M290 321.5h1M821 321.5h1M291 322.5h1M820 322.5h1M292 323.5h1M820 323.5h1M293 324.5h1M820 324.5h1M294 325.5h1M819 325.5h1M295 326.5h2M819 326.5h1M297 327.5h1M818 327.5h1M298 328.5h1M818 328.5h1M299 329.5h1M818 329.5h1M300 330.5h1M817 330.5h1M301 331.5h1M817 331.5h1M302 332.5h1M817 332.5h1M303 333.5h2M816 333.5h1M305 334.5h1M816 334.5h1M306 335.5h2M815 335.5h1M308 336.5h2M815 336.5h1M310 337.5h1M814 337.5h1M311 338.5h2M814 338.5h1M313 339.5h1M813 339.5h1M314 340.5h1M813 340.5h1M315 341.5h2M813 341.5h1M317 342.5h2M812 342.5h1M319 343.5h3M812 343.5h1M322 344.5h2M811 344.5h1M324 345.5h2M811 345.5h1M326 346.5h2M810 346.5h1M328 347.5h3M347 347.5h16M810 347.5h1M331 348.5h16M363 348.5h4M809 348.5h1M367 349.5h8M808 349.5h1M375 350.5h12M391 350.5h7M808 350.5h1M387 351.5h4M398 351.5h2M807 351.5h1M400 352.5h3M806 352.5h1M403 353.5h8M806 353.5h1M411 354.5h8M805 354.5h1M419 355.5h3M804 355.5h1M422 356.5h2M803 356.5h1M424 357.5h7M802 357.5h1M431 358.5h4M480 358.5h3M801 358.5h1M435 359.5h4M478 359.5h2M483 359.5h40M743 359.5h8M799 359.5h2M439 360.5h8M455 360.5h23M523 360.5h8M741 360.5h2M751 360.5h4M759 360.5h8M775 360.5h4M798 360.5h1M447 361.5h8M531 361.5h4M739 361.5h2M755 361.5h4M767 361.5h8M779 361.5h19M535 362.5h4M738 362.5h1M539 363.5h4M737 363.5h1M543 364.5h4M735 364.5h2M547 365.5h4M734 365.5h1M551 366.5h3M733 366.5h1M554 367.5h2M731 367.5h2M556 368.5h2M615 368.5h7M730 368.5h1M558 369.5h2M612 369.5h3M622 369.5h2M728 369.5h2M560 370.5h2M610 370.5h2M624 370.5h3M726 370.5h2M562 371.5h1M607 371.5h3M627 371.5h3M725 371.5h1M563 372.5h2M603 372.5h4M630 372.5h1M724 372.5h1M565 373.5h2M599 373.5h4M631 373.5h2M723 373.5h1M567 374.5h32M633 374.5h1M722 374.5h1M634 375.5h2M720 375.5h2M636 376.5h3M718 376.5h2M639 377.5h3M717 377.5h1M642 378.5h2M715 378.5h2M644 379.5h2M714 379.5h1M646 380.5h2M713 380.5h1M648 381.5h2M711 381.5h2M650 382.5h1M710 382.5h1M651 383.5h2M709 383.5h1M653 384.5h1M707 384.5h2M654 385.5h2M706 385.5h1M656 386.5h2M703 386.5h3M658 387.5h2M701 387.5h2M660 388.5h2M700 388.5h1M662 389.5h2M699 389.5h1M664 390.5h2M698 390.5h1M666 391.5h1M697 391.5h1M667 392.5h2M695 392.5h2M669 393.5h2M694 393.5h1M671 394.5h4M692 394.5h2M675 395.5h8M690 395.5h2M683 396.5h7" fill="none" stroke="#ff0000" stroke-width="1"/>
<path d="M924 121.5h2M922 122.5h2M912 123.5h10M910 124.5h2M909 125.5h1M908 126.5h1M908 127.5h1M907 128.5h1M906 129.5h1M906 130.5h1M905 131.5h1M904 132.5h1M903 133.5h1M902 134.5h1M901 135.5h1M899 136.5h2M898 137.5h1M897 138.5h1M896 139.5h1M895 140.5h1M894 141.5h1M893 142.5h1M893 143.5h1M892 144.5h1M892 145.5h1M891 146.5h1M891 147.5h1M890 148.5h1M890 149.5h1M889 150.5h1M889 151.5h1M888 152.5h1M888 153.5h1M887 154.5h1M887 155.5h1M886 156.5h1M886 157.5h1M885 158.5h1M885 159.5h1M885 160.5h1M884 161.5h1M884 162.5h1M884 163.5h1M883 164.5h1M883 165.5h1M883 166.5h1M882 167.5h1M882 168.5h1M882 169.5h1M881 170.5h1M881 171.5h1M881 172.5h1M880 173.5h1M880 174.5h1M880 175.5h1M879 176.5h1M879 177.5h1M878 178.5h1M878 179.5h1M878 180.5h1M877 181.5h1M877 182.5h1M877 183.5h1M876 184.5h1M876 185.5h1M876 186.5h1M876 187.5h1M875 188.5h1M875 189.5h1M875 190.5h1M874 191.5h1M874 192.5h1M874 193.5h1M874 194.5h1M873 195.5h1M873 196.5h1M873 197.5h1M872 198.5h1M872 199.5h1M872 200.5h1M871 201.5h1M871 202.5h1M871 203.5h1M871 204.5h1M870 205.5h1M870 206.5h1M870 207.5h1M869 208.5h1M869 209.5h1M869 210.5h1M868 211.5h1M868 212.5h1M868 213.5h1M868 214.5h1M867 215.5h1M867 216.5h1M867 217.5h1M867 218.5h1M866 219.5h1M866 220.5h1M866 221.5h1M866 222.5h1M865 223.5h1M865 224.5h1M865 225.5h1M864 226.5h1M864 227.5h1M864 228.5h1M863 229.5h1M863 230.5h1M863 231.5h1M863 232.5h1M862 233.5h1M862 234.5h1M862 235.5h1M861 236.5h1M861 237.5h1M861 238.5h1M860 239.5h1M860 240.5h1M860 241.5h1M859 242.5h1M859 243.5h1M858 244.5h1M858 245.5h1M858 246.5h1M857 247.5h1M857 248.5h1M857 249.5h1M856 250.5h1M856 251.5h1M856 252.5h1M855 253.5h1M855 254.5h1M855 255.5h1M855 256.5h1M854 257.5h1M854 258.5h1M854 259.5h1M853 260.5h1M853 261.5h1M853 262.5h1M852 263.5h1M852 264.5h1M852 265.5h1M851 266.5h1M851 267.5h1M850 268.5h1M850 269.5h1M850 270.5h1M849 271.5h1M849 272.5h1M849 273.5h1M848 274.5h1M848 275.5h1M847 276.5h1M847 277.5h1M847 278.5h1M846 279.5h1M846 280.5h1M845 281.5h1M845 282.5h1M845 283.5h1M844 284.5h1M844 285.5h1M843 286.5h1M843 287.5h1M111 288.5h11M842 288.5h1M40 289.5h7M107 289.5h4M122 289.5h2M842 289.5h1M38 290.5h2M47 290.5h16M79 290.5h4M87 290.5h20M124 290.5h19M841 290.5h1M31 291.5h7M63 291.5h4M71 291.5h8M83 291.5h4M143 291.5h8M841 291.5h1M16 292.5h15M67 292.5h4M151 292.5h4M840 292.5h1M14 293.5h2M155 293.5h4M840 293.5h1M11 294.5h3M159 294.5h4M839 294.5h1M5 295.5h6M163 295.5h4M839 295.5h1M167 296.5h4M838 296.5h1M171 297.5h4M838 297.5h1M175 298.5h4M837 298.5h1M179 299.5h3M837 299.5h1M182 300.5h2M837 300.5h1M184 301.5h3M836 301.5h1M187 302.5h4M836 302.5h1M191 303.5h4M199 303.5h8M223 303.5h8M235 303.5h4M259 303.5h4M267 303.5h4M835 303.5h1M195 304.5h4M207 304.5h16M231 304.5h4M239 304.5h20M263 304.5h4M271 304.5h4M835 304.5h1M275 305.5h3M835 305.5h1M278 306.5h1M834 306.5h1M279 307.5h1M834 307.5h1M280 308.5h1M833 308.5h1M281 309.5h1M833 309.5h1M282 310.5h1M833 310.5h1M283 311.5h2M832 311.5h1M285 312.5h1M832 312.5h1M286 313.5h2M831 313.5h1M288 314.5h2M831 314.5h1M290 315.5h1M830 315.5h1M291 316.5h2M830 316.5h1M293 317.5h1M829 317.5h1M294 318.5h1M829 318.5h1M295 319.5h2M829 319.5h1M297 320.5h1M828 320.5h1M298 321.5h2M828 321.5h1M300 322.5h2M827 322.5h1M302 323.5h1M827 323.5h1M303 324.5h2M827 324.5h1M305 325.5h1M826 325.5h1M306 326.5h1M826 326.5h1M307 327.5h2M825 327.5h1M309 328.5h2M825 328.5h1M311 329.5h4M824 329.5h1M315 330.5h3M824 330.5h1M318 331.5h2M823 331.5h1M320 332.5h2M823 332.5h1M322 333.5h2M822 333.5h1M324 334.5h3M822 334.5h1M327 335.5h3M821 335.5h1M330 336.5h2M820 336.5h1M332 337.5h2M820 337.5h1M334 338.5h2M819 338.5h1M336 339.5h2M819 339.5h1M338 340.5h2M818 340.5h1M340 341.5h2M818 341.5h1M342 342.5h2M817 342.5h1M344 343.5h3M816 343.5h1M347 344.5h3M816 344.5h1M350 345.5h2M815 345.5h1M352 346.5h2M814 346.5h1M354 347.5h2M814 347.5h1M356 348.5h3M383 348.5h12M813 348.5h1M359 349.5h24M395 349.5h4M812 349.5h1M399 350.5h4M811 350.5h1M403 351.5h8M811 351.5h1M411 352.5h4M810 352.5h1M415 353.5h4M809 353.5h1M419 354.5h4M807 354.5h2M423 355.5h4M806 355.5h1M427 356.5h8M804 356.5h2M435 357.5h24M802 357.5h2M459 358.5h8M519 358.5h4M799 358.5h3M467 359.5h8M507 359.5h12M523 359.5h8M791 359.5h8M475 360.5h16M503 360.5h4M531 360.5h4M775 360.5h8M787 360.5h4M491 361.5h12M535 361.5h4M771 361.5h4M783 361.5h4M539 362.5h4M768 362.5h3M543 363.5h4M766 363.5h2M547 364.5h4M763 364.5h3M551 365.5h4M760 365.5h3M555 366.5h4M758 366.5h2M559 367.5h3M755 367.5h3M562 368.5h2M575 368.5h8M752 368.5h3M564 369.5h11M583 369.5h4M750 369.5h2M587 370.5h4M747 370.5h3M591 371.5h8M743 371.5h4M599 372.5h24M740 372.5h3M623 373.5h4M738 373.5h2M627 374.5h8M736 374.5h2M635 375.5h8M734 375.5h2M643 376.5h7M732 376.5h2M650 377.5h2M730 377.5h2M652 378.5h2M728 378.5h2M654 379.5h2M726 379.5h2M656 380.5h2M725 380.5h1M658 381.5h2M723 381.5h2M660 382.5h3M722 382.5h1M663 383.5h4M719 383.5h3M667 384.5h4M716 384.5h3M671 385.5h4M714 385.5h2M675 386.5h3M711 386.5h3M678 387.5h2M707 387.5h4M680 388.5h3M703 388.5h4M683 389.5h4M699 389.5h4M687 390.5h12" fill="none" stroke="#0000cd" stroke-width="1"/>
</g>
<rect x="1168" y="50" width="2" height="1" fill="#000"/>
<text x="1173" y="54" fill="#000" font-size="10" textLength="32.8" lengthAdjust="spacingAndGlyphs" stroke="#000" stroke-width="0.1">6.82810</text>
<rect x="1168" y="83" width="2" height="1" fill="#000"/>
<text x="1173" y="87" fill="#000" font-size="10" textLength="32.8" lengthAdjust="spacingAndGlyphs" stroke="#000" stroke-width="0.1">6.78025</text>
<rect x="1168" y="116" width="2" height="1" fill="#000"/>
<text x="1173" y="120" fill="#000" font-size="10" textLength="32.8" lengthAdjust="spacingAndGlyphs" stroke="#000" stroke-width="0.1">6.73095</text>
<rect x="1168" y="149" width="2" height="1" fill="#000"/>
<text x="1173" y="153" fill="#000" font-size="10" textLength="32.8" lengthAdjust="spacingAndGlyphs" stroke="#000" stroke-width="0.1">6.68310</text>
<rect x="1168" y="182" width="2" height="1" fill="#000"/>
<text x="1173" y="186" fill="#000" font-size="10" textLength="32.8" lengthAdjust="spacingAndGlyphs" stroke="#000" stroke-width="0.1">6.63525</text>
<rect x="1168" y="215" width="2" height="1" fill="#000"/>
<text x="1173" y="219" fill="#000" font-size="10" textLength="32.8" lengthAdjust="spacingAndGlyphs" stroke="#000" stroke-width="0.1">6.58595</text>
<rect x="1168" y="248" width="2" height="1" fill="#000"/>
<text x="1173" y="252" fill="#000" font-size="10" textLength="32.8" lengthAdjust="spacingAndGlyphs" stroke="#000" stroke-width="0.1">6.53810</text>
<rect x="1168" y="281" width="2" height="1" fill="#000"/>
<text x="1173" y="285" fill="#000" font-size="10" textLength="32.8" lengthAdjust="spacingAndGlyphs" stroke="#000" stroke-width="0.1">6.48880</text>
<rect x="1168" y="314" width="2" height="1" fill="#000"/>
<text x="1173" y="318" fill="#000" font-size="10" textLength="32.8" lengthAdjust="spacingAndGlyphs" stroke="#000" stroke-width="0.1">6.44095</text>
<rect x="1168" y="347" width="2" height="1" fill="#000"/>
<text x="1173" y="351" fill="#000" font-size="10" textLength="32.8" lengthAdjust="spacingAndGlyphs" stroke="#000" stroke-width="0.1">6.39165</text>
<rect x="1168" y="380" width="2" height="1" fill="#000"/>
<text x="1173" y="384" fill="#000" font-size="10" textLength="32.8" lengthAdjust="spacingAndGlyphs" stroke="#000" stroke-width="0.1">6.34380</text>
<rect x="1168" y="413" width="2" height="1" fill="#000"/>
<text x="1173" y="417" fill="#000" font-size="10" textLength="32.8" lengthAdjust="spacingAndGlyphs" stroke="#000" stroke-width="0.1">6.29595</text>
<rect x="1169" y="91" width="40" height="11" fill="#ff0000"/>
<text x="1173" y="100" fill="#fff" font-size="10" textLength="32.8" lengthAdjust="spacingAndGlyphs">6.75998</text>
<rect x="1169" y="171" width="40" height="11" fill="#00ff00"/>
<text x="1173" y="180" fill="#fff" font-size="10" textLength="32.8" lengthAdjust="spacingAndGlyphs">6.64169</text>
<rect x="1169" y="241" width="40" height="11" fill="#0000ff"/>
<text x="1173" y="250" fill="#fff" font-size="10" textLength="32.8" lengthAdjust="spacingAndGlyphs">6.53845</text>
<rect x="1169" y="318" width="40" height="11" fill="#0000ff"/>
<text x="1173" y="327" fill="#fff" font-size="10" textLength="32.8" lengthAdjust="spacingAndGlyphs">6.42660</text>
<rect x="1169" y="390" width="40" height="11" fill="#0000ff"/>
<text x="1173" y="399" fill="#fff" font-size="10" textLength="32.8" lengthAdjust="spacingAndGlyphs">6.32018</text>
<rect x="1169" y="135" width="40" height="11" fill="#000"/>
<text x="1173" y="144" fill="#fff" font-size="10" textLength="32.6" lengthAdjust="spacingAndGlyphs">6.69664</text>
<path d="M8 36 L11.5 32 L15 36 Z" fill="#000"/>
<text x="20.4" y="37" fill="#000" font-size="10" textLength="68.3" lengthAdjust="spacingAndGlyphs" stroke="#000" stroke-width="0.1">USDCNH-,Daily</text>
<text x="95.2" y="37" fill="#000" font-size="10" textLength="140.5" lengthAdjust="spacingAndGlyphs" stroke="#000" stroke-width="0.1">6.67501 6.71270 6.67194 6.69664</text>
<g id="macd">
<g fill="#c0c0c0"><rect x="4" y="470" width="3" height="5"/><rect x="8" y="470" width="3" height="5"/><rect x="12" y="470" width="3" height="5"/><rect x="16" y="470" width="3" height="5"/><rect x="20" y="470" width="3" height="5"/><rect x="24" y="471" width="3" height="4"/><rect x="28" y="471" width="3" height="4"/><rect x="32" y="471" width="3" height="4"/><rect x="36" y="471" width="3" height="4"/><rect x="40" y="470" width="3" height="5"/><rect x="44" y="470" width="3" height="5"/><rect x="48" y="471" width="3" height="4"/><rect x="52" y="472" width="3" height="3"/><rect x="56" y="473" width="3" height="2"/><rect x="60" y="473" width="3" height="2"/><rect x="64" y="474" width="3" height="1"/><rect x="68" y="474" width="3" height="1"/><rect x="72" y="474" width="3" height="1"/><rect x="76" y="474" width="3" height="1"/><rect x="80" y="473" width="3" height="2"/><rect x="84" y="473" width="3" height="2"/><rect x="88" y="473" width="3" height="2"/><rect x="92" y="474" width="3" height="1"/><rect x="96" y="474" width="3" height="1"/><rect x="100" y="473" width="3" height="2"/><rect x="104" y="473" width="3" height="2"/><rect x="108" y="472" width="3" height="3"/><rect x="112" y="472" width="3" height="3"/><rect x="116" y="472" width="3" height="3"/><rect x="120" y="473" width="3" height="2"/><rect x="124" y="474" width="3" height="1"/><rect x="128" y="474" width="3" height="1"/><rect x="132" y="474" width="3" height="1"/><rect x="136" y="475" width="3" height="1"/><rect x="140" y="475" width="3" height="1"/><rect x="144" y="475" width="3" height="2"/><rect x="148" y="475" width="3" height="3"/><rect x="152" y="475" width="3" height="4"/><rect x="156" y="475" width="3" height="4"/><rect x="160" y="475" width="3" height="3"/><rect x="164" y="475" width="3" height="3"/><rect x="168" y="475" width="3" height="3"/><rect x="172" y="475" width="3" height="4"/><rect x="176" y="475" width="3" height="4"/><rect x="180" y="475" width="3" height="4"/><rect x="184" y="475" width="3" height="5"/><rect x="188" y="475" width="3" height="4"/><rect x="192" y="475" width="3" height="3"/><rect x="196" y="475" width="3" height="2"/><rect x="200" y="475" width="3" height="1"/><rect x="204" y="474" width="3" height="1"/><rect x="208" y="475" width="3" height="1"/><rect x="212" y="474" width="3" height="1"/><rect x="216" y="475" width="3" height="1"/><rect x="220" y="474" width="3" height="1"/><rect x="224" y="474" width="3" height="1"/><rect x="228" y="474" width="3" height="1"/><rect x="232" y="475" width="3" height="1"/><rect x="236" y="475" width="3" height="1"/><rect x="240" y="475" width="3" height="2"/><rect x="244" y="475" width="3" height="2"/><rect x="248" y="475" width="3" height="2"/><rect x="252" y="475" width="3" height="2"/><rect x="256" y="475" width="3" height="2"/><rect x="260" y="475" width="3" height="1"/><rect x="264" y="475" width="3" height="2"/><rect x="268" y="475" width="3" height="3"/><rect x="272" y="475" width="3" height="3"/><rect x="276" y="475" width="3" height="4"/><rect x="280" y="475" width="3" height="6"/><rect x="284" y="475" width="3" height="7"/><rect x="288" y="475" width="3" height="8"/><rect x="292" y="475" width="3" height="9"/><rect x="296" y="475" width="3" height="10"/><rect x="300" y="475" width="3" height="11"/><rect x="304" y="475" width="3" height="10"/><rect x="308" y="475" width="3" height="10"/><rect x="312" y="475" width="3" height="9"/><rect x="316" y="475" width="3" height="9"/><rect x="320" y="475" width="3" height="8"/><rect x="324" y="475" width="3" height="8"/><rect x="328" y="475" width="3" height="7"/><rect x="332" y="475" width="3" height="7"/><rect x="336" y="475" width="3" height="7"/><rect x="340" y="475" width="3" height="7"/><rect x="344" y="475" width="3" height="6"/><rect x="348" y="475" width="3" height="6"/><rect x="352" y="475" width="3" height="6"/><rect x="356" y="475" width="3" height="6"/><rect x="360" y="475" width="3" height="6"/><rect x="364" y="475" width="3" height="6"/><rect x="368" y="475" width="3" height="6"/><rect x="372" y="475" width="3" height="5"/><rect x="376" y="475" width="3" height="5"/><rect x="380" y="475" width="3" height="4"/><rect x="384" y="475" width="3" height="4"/><rect x="388" y="475" width="3" height="4"/><rect x="392" y="475" width="3" height="3"/><rect x="396" y="475" width="3" height="3"/><rect x="400" y="475" width="3" height="4"/><rect x="404" y="475" width="3" height="4"/><rect x="408" y="475" width="3" height="4"/><rect x="412" y="475" width="3" height="4"/><rect x="416" y="475" width="3" height="4"/><rect x="420" y="475" width="3" height="5"/><rect x="424" y="475" width="3" height="6"/><rect x="428" y="475" width="3" height="5"/><rect x="432" y="475" width="3" height="4"/><rect x="436" y="475" width="3" height="4"/><rect x="440" y="475" width="3" height="4"/><rect x="444" y="475" width="3" height="4"/><rect x="448" y="475" width="3" height="3"/><rect x="452" y="475" width="3" height="2"/><rect x="456" y="475" width="3" height="2"/><rect x="460" y="475" width="3" height="2"/><rect x="464" y="475" width="3" height="2"/><rect x="468" y="475" width="3" height="2"/><rect x="472" y="475" width="3" height="2"/><rect x="476" y="475" width="3" height="2"/><rect x="480" y="475" width="3" height="2"/><rect x="484" y="475" width="3" height="2"/><rect x="488" y="475" width="3" height="2"/><rect x="492" y="475" width="3" height="2"/><rect x="496" y="475" width="3" height="2"/><rect x="500" y="475" width="3" height="2"/><rect x="504" y="475" width="3" height="1"/><rect x="508" y="475" width="3" height="1"/><rect x="512" y="475" width="3" height="1"/><rect x="516" y="475" width="3" height="1"/><rect x="520" y="475" width="3" height="1"/><rect x="524" y="475" width="3" height="1"/><rect x="528" y="475" width="3" height="1"/><rect x="532" y="475" width="3" height="2"/><rect x="536" y="475" width="3" height="3"/><rect x="540" y="475" width="3" height="3"/><rect x="544" y="475" width="3" height="3"/><rect x="548" y="475" width="3" height="4"/><rect x="552" y="475" width="3" height="4"/><rect x="556" y="475" width="3" height="5"/><rect x="560" y="475" width="3" height="5"/><rect x="564" y="475" width="3" height="6"/><rect x="568" y="475" width="3" height="4"/><rect x="572" y="475" width="3" height="3"/><rect x="576" y="475" width="3" height="2"/><rect x="580" y="475" width="3" height="2"/><rect x="584" y="475" width="3" height="2"/><rect x="588" y="475" width="3" height="2"/><rect x="592" y="475" width="3" height="1"/><rect x="596" y="475" width="3" height="1"/><rect x="600" y="475" width="3" height="1"/><rect x="604" y="475" width="3" height="1"/><rect x="608" y="475" width="3" height="1"/><rect x="612" y="475" width="3" height="1"/><rect x="616" y="475" width="3" height="1"/><rect x="620" y="475" width="3" height="1"/><rect x="624" y="475" width="3" height="2"/><rect x="628" y="475" width="3" height="3"/><rect x="632" y="475" width="3" height="4"/><rect x="636" y="475" width="3" height="4"/><rect x="640" y="475" width="3" height="5"/><rect x="644" y="475" width="3" height="6"/><rect x="648" y="475" width="3" height="6"/><rect x="652" y="475" width="3" height="6"/><rect x="656" y="475" width="3" height="7"/><rect x="660" y="475" width="3" height="6"/><rect x="664" y="475" width="3" height="6"/><rect x="668" y="475" width="3" height="6"/><rect x="672" y="475" width="3" height="5"/><rect x="676" y="475" width="3" height="5"/><rect x="680" y="475" width="3" height="5"/><rect x="684" y="475" width="3" height="5"/><rect x="688" y="475" width="3" height="4"/><rect x="692" y="475" width="3" height="2"/><rect x="696" y="474" width="3" height="1"/><rect x="700" y="473" width="3" height="2"/><rect x="704" y="472" width="3" height="3"/><rect x="708" y="472" width="3" height="3"/><rect x="712" y="471" width="3" height="4"/><rect x="716" y="471" width="3" height="4"/><rect x="720" y="470" width="3" height="5"/><rect x="724" y="469" width="3" height="6"/><rect x="728" y="469" width="3" height="6"/><rect x="732" y="469" width="3" height="6"/><rect x="736" y="469" width="3" height="6"/><rect x="740" y="469" width="3" height="6"/><rect x="744" y="470" width="3" height="5"/><rect x="748" y="471" width="3" height="4"/><rect x="752" y="472" width="3" height="3"/><rect x="756" y="472" width="3" height="3"/><rect x="760" y="471" width="3" height="4"/><rect x="764" y="472" width="3" height="3"/><rect x="768" y="472" width="3" height="3"/><rect x="772" y="472" width="3" height="3"/><rect x="776" y="472" width="3" height="3"/><rect x="780" y="472" width="3" height="3"/><rect x="784" y="472" width="3" height="3"/><rect x="788" y="472" width="3" height="3"/><rect x="792" y="472" width="3" height="3"/><rect x="796" y="472" width="3" height="3"/><rect x="800" y="470" width="3" height="5"/><rect x="804" y="468" width="3" height="7"/><rect x="808" y="465" width="3" height="10"/><rect x="812" y="460" width="3" height="15"/><rect x="816" y="455" width="3" height="20"/><rect x="820" y="451" width="3" height="24"/><rect x="824" y="448" width="3" height="27"/><rect x="828" y="443" width="3" height="32"/><rect x="832" y="440" width="3" height="35"/><rect x="836" y="437" width="3" height="38"/><rect x="840" y="436" width="3" height="39"/><rect x="844" y="437" width="3" height="38"/><rect x="848" y="435" width="3" height="40"/><rect x="852" y="433" width="3" height="42"/><rect x="856" y="430" width="3" height="45"/><rect x="860" y="429" width="3" height="46"/><rect x="864" y="428" width="3" height="47"/><rect x="868" y="425" width="3" height="50"/><rect x="872" y="424" width="3" height="51"/><rect x="876" y="424" width="3" height="51"/><rect x="880" y="427" width="3" height="48"/><rect x="884" y="428" width="3" height="47"/><rect x="888" y="432" width="3" height="43"/><rect x="892" y="436" width="3" height="39"/><rect x="896" y="442" width="3" height="33"/><rect x="900" y="447" width="3" height="28"/><rect x="904" y="449" width="3" height="26"/><rect x="908" y="448" width="3" height="27"/><rect x="912" y="450" width="3" height="25"/><rect x="916" y="454" width="3" height="21"/><rect x="920" y="457" width="3" height="18"/><rect x="924" y="459" width="3" height="16"/></g>
<path d="M883 427.5h8M879 428.5h4M891 428.5h4M875 429.5h4M895 429.5h3M872 430.5h3M898 430.5h2M870 431.5h2M900 431.5h2M867 432.5h3M902 432.5h1M864 433.5h3M903 433.5h2M862 434.5h2M905 434.5h1M860 435.5h2M906 435.5h1M858 436.5h2M907 436.5h2M856 437.5h2M909 437.5h1M854 438.5h2M910 438.5h2M853 439.5h1M912 439.5h2M851 440.5h2M914 440.5h1M850 441.5h1M915 441.5h2M849 442.5h1M917 442.5h1M847 443.5h2M918 443.5h1M846 444.5h1M919 444.5h1M845 445.5h1M920 445.5h1M843 446.5h2M921 446.5h1M842 447.5h1M922 447.5h1M841 448.5h1M923 448.5h2M839 449.5h2M925 449.5h1M838 450.5h1M837 451.5h1M836 452.5h1M835 453.5h1M834 454.5h1M833 455.5h1M832 456.5h1M831 457.5h1M830 458.5h1M829 459.5h1M827 460.5h2M826 461.5h1M825 462.5h1M823 463.5h2M822 464.5h1M820 465.5h2M818 466.5h2M5 467.5h2M816 467.5h2M7 468.5h12M814 468.5h2M19 469.5h12M739 469.5h16M811 469.5h3M31 470.5h28M731 470.5h8M755 470.5h16M807 470.5h4M59 471.5h8M727 471.5h4M771 471.5h36M67 472.5h12M723 472.5h4M79 473.5h64M719 473.5h4M143 474.5h8M715 474.5h4M151 475.5h4M223 475.5h32M527 475.5h8M615 475.5h12M711 475.5h4M155 476.5h8M215 476.5h8M255 476.5h16M479 476.5h48M535 476.5h16M603 476.5h12M627 476.5h12M707 476.5h4M163 477.5h12M207 477.5h8M271 477.5h12M463 477.5h16M551 477.5h8M595 477.5h8M639 477.5h8M703 477.5h4M175 478.5h32M283 478.5h4M403 478.5h20M455 478.5h8M559 478.5h8M579 478.5h16M647 478.5h4M699 478.5h4M287 479.5h8M391 479.5h12M423 479.5h32M567 479.5h12M651 479.5h8M691 479.5h8M295 480.5h4M371 480.5h20M659 480.5h32M299 481.5h4M351 481.5h20M303 482.5h4M339 482.5h12M307 483.5h4M331 483.5h8M311 484.5h20" fill="none" stroke="#ff0000" stroke-width="1"/>
</g>
<text x="9.4" y="430.6" fill="#000" font-size="10" textLength="147" lengthAdjust="spacingAndGlyphs" stroke="#000" stroke-width="0.1">MACD(12,26,9) 0.030902 0.049776</text>
<rect x="1168" y="420" width="1" height="1" fill="#000"/>
<text x="1171" y="428" fill="#000" font-size="10" textLength="38.2" lengthAdjust="spacingAndGlyphs" stroke="#000" stroke-width="0.1">0.104313</text>
<rect x="1168" y="475" width="1" height="1" fill="#000"/>
<text x="1171" y="478.7" fill="#000" font-size="10" textLength="17.8" lengthAdjust="spacingAndGlyphs" stroke="#000" stroke-width="0.1">0.00</text>
<rect x="1168" y="489" width="1" height="1" fill="#000"/>
<text x="1171" y="487" fill="#000" font-size="10" textLength="41.2" lengthAdjust="spacingAndGlyphs" stroke="#000" stroke-width="0.1">-0.026249</text>
<g id="rsi">
<line x1="6" y1="515.5" x2="1167" y2="515.5" stroke="#c0c0c0" stroke-width="1" stroke-dasharray="3 3"/>
<line x1="6" y1="544.5" x2="1167" y2="544.5" stroke="#c0c0c0" stroke-width="1" stroke-dasharray="3 3"/>
<path d="M828 502.5h2M826 503.5h2M830 503.5h1M819 504.5h7M831 504.5h1M836 504.5h2M816 505.5h3M832 505.5h1M834 505.5h2M838 505.5h1M814 506.5h2M833 506.5h1M838 506.5h1M868 506.5h2M813 507.5h1M839 507.5h1M856 507.5h2M866 507.5h2M870 507.5h1M811 508.5h2M840 508.5h1M854 508.5h2M858 508.5h2M863 508.5h3M871 508.5h1M810 509.5h1M840 509.5h1M852 509.5h2M860 509.5h3M872 509.5h1M809 510.5h1M841 510.5h1M850 510.5h2M873 510.5h5M808 511.5h1M842 511.5h1M849 511.5h1M878 511.5h1M807 512.5h1M843 512.5h1M847 512.5h2M878 512.5h1M697 513.5h1M806 513.5h1M844 513.5h1M846 513.5h1M879 513.5h1M696 514.5h1M698 514.5h1M805 514.5h1M845 514.5h1M879 514.5h1M696 515.5h1M699 515.5h1M804 515.5h1M880 515.5h1M695 516.5h1M700 516.5h1M803 516.5h1M880 516.5h1M884 516.5h2M41 517.5h1M695 517.5h1M701 517.5h1M803 517.5h1M881 517.5h3M886 517.5h1M41 518.5h1M694 518.5h1M702 518.5h1M725 518.5h1M802 518.5h1M881 518.5h1M887 518.5h1M40 519.5h1M42 519.5h1M694 519.5h1M702 519.5h1M723 519.5h2M726 519.5h1M801 519.5h1M887 519.5h1M17 520.5h1M40 520.5h1M42 520.5h1M693 520.5h1M703 520.5h1M722 520.5h1M727 520.5h2M801 520.5h1M888 520.5h1M909 520.5h1M16 521.5h1M18 521.5h1M39 521.5h1M43 521.5h1M693 521.5h1M703 521.5h1M719 521.5h3M729 521.5h9M800 521.5h1M889 521.5h1M908 521.5h1M910 521.5h1M15 522.5h1M19 522.5h1M39 522.5h1M43 522.5h1M692 522.5h1M704 522.5h1M712 522.5h7M738 522.5h1M777 522.5h1M800 522.5h1M890 522.5h1M907 522.5h1M911 522.5h1M15 523.5h1M20 523.5h1M38 523.5h1M44 523.5h1M109 523.5h5M197 523.5h5M509 523.5h1M692 523.5h1M704 523.5h1M710 523.5h2M739 523.5h2M776 523.5h1M778 523.5h1M789 523.5h1M799 523.5h1M891 523.5h2M906 523.5h1M911 523.5h1M14 524.5h1M21 524.5h1M38 524.5h1M44 524.5h1M101 524.5h1M107 524.5h2M114 524.5h1M195 524.5h2M202 524.5h1M508 524.5h1M510 524.5h1M692 524.5h1M705 524.5h5M741 524.5h1M759 524.5h3M775 524.5h1M779 524.5h1M788 524.5h1M790 524.5h2M799 524.5h1M893 524.5h1M905 524.5h1M912 524.5h1M13 525.5h1M22 525.5h1M35 525.5h3M45 525.5h1M76 525.5h6M100 525.5h1M102 525.5h2M106 525.5h1M114 525.5h1M194 525.5h1M203 525.5h1M224 525.5h2M508 525.5h1M511 525.5h1M691 525.5h1M742 525.5h1M756 525.5h3M762 525.5h1M774 525.5h1M780 525.5h1M787 525.5h1M792 525.5h2M798 525.5h1M894 525.5h1M904 525.5h1M913 525.5h1M11 526.5h2M23 526.5h1M29 526.5h6M45 526.5h1M74 526.5h2M82 526.5h1M99 526.5h1M104 526.5h2M115 526.5h1M193 526.5h1M204 526.5h1M222 526.5h2M226 526.5h1M507 526.5h1M512 526.5h1M569 526.5h13M612 526.5h2M691 526.5h1M742 526.5h1M754 526.5h2M762 526.5h1M773 526.5h1M781 526.5h2M786 526.5h1M794 526.5h2M798 526.5h1M895 526.5h1M903 526.5h1M914 526.5h1M10 527.5h1M23 527.5h1M27 527.5h2M46 527.5h1M73 527.5h1M83 527.5h2M87 527.5h4M99 527.5h1M116 527.5h1M129 527.5h1M192 527.5h1M205 527.5h1M221 527.5h1M226 527.5h1M453 527.5h2M507 527.5h1M513 527.5h2M569 527.5h1M582 527.5h1M600 527.5h2M610 527.5h2M614 527.5h1M691 527.5h1M743 527.5h1M753 527.5h1M763 527.5h1M771 527.5h2M783 527.5h3M796 527.5h2M896 527.5h1M902 527.5h1M915 527.5h1M923 527.5h3M5 528.5h5M24 528.5h1M26 528.5h1M46 528.5h1M72 528.5h1M85 528.5h2M91 528.5h4M98 528.5h1M116 528.5h1M128 528.5h1M130 528.5h1M191 528.5h1M206 528.5h2M211 528.5h3M219 528.5h2M227 528.5h1M451 528.5h2M455 528.5h3M506 528.5h1M515 528.5h3M568 528.5h1M583 528.5h1M593 528.5h2M598 528.5h2M602 528.5h2M607 528.5h3M614 528.5h1M690 528.5h1M744 528.5h1M752 528.5h1M764 528.5h1M770 528.5h1M897 528.5h5M916 528.5h1M919 528.5h4M25 529.5h1M47 529.5h1M71 529.5h1M95 529.5h3M117 529.5h1M127 529.5h1M130 529.5h1M190 529.5h1M208 529.5h3M214 529.5h2M218 529.5h1M227 529.5h1M257 529.5h2M392 529.5h2M450 529.5h1M458 529.5h1M500 529.5h3M506 529.5h1M518 529.5h2M568 529.5h1M583 529.5h1M592 529.5h1M595 529.5h3M604 529.5h3M615 529.5h1M690 529.5h1M744 529.5h1M751 529.5h1M764 529.5h1M767 529.5h3M917 529.5h2M48 530.5h1M52 530.5h3M59 530.5h4M70 530.5h1M118 530.5h1M126 530.5h1M131 530.5h1M161 530.5h1M189 530.5h1M216 530.5h2M228 530.5h1M244 530.5h3M256 530.5h1M259 530.5h3M383 530.5h4M390 530.5h2M394 530.5h1M429 530.5h2M447 530.5h3M459 530.5h2M489 530.5h1M498 530.5h2M503 530.5h3M520 530.5h2M568 530.5h1M584 530.5h1M591 530.5h1M616 530.5h1M690 530.5h1M745 530.5h1M751 530.5h1M765 530.5h2M48 531.5h1M50 531.5h2M55 531.5h4M63 531.5h7M119 531.5h2M123 531.5h3M132 531.5h1M160 531.5h1M162 531.5h2M189 531.5h1M228 531.5h1M237 531.5h2M242 531.5h2M247 531.5h3M255 531.5h1M262 531.5h1M373 531.5h2M379 531.5h4M387 531.5h3M395 531.5h1M429 531.5h1M431 531.5h4M443 531.5h4M461 531.5h18M488 531.5h1M490 531.5h1M497 531.5h1M522 531.5h1M567 531.5h1M585 531.5h1M591 531.5h1M616 531.5h1M689 531.5h1M746 531.5h2M750 531.5h1M49 532.5h1M121 532.5h2M132 532.5h1M135 532.5h3M159 532.5h1M164 532.5h3M188 532.5h1M229 532.5h1M236 532.5h1M239 532.5h3M250 532.5h2M254 532.5h1M262 532.5h1M313 532.5h1M321 532.5h1M345 532.5h1M372 532.5h1M375 532.5h4M396 532.5h1M428 532.5h1M435 532.5h8M479 532.5h3M487 532.5h1M491 532.5h1M496 532.5h1M523 532.5h1M567 532.5h1M586 532.5h2M590 532.5h1M617 532.5h1M689 532.5h1M748 532.5h2M133 533.5h2M138 533.5h1M158 533.5h1M167 533.5h3M188 533.5h1M229 533.5h1M235 533.5h1M252 533.5h2M263 533.5h1M269 533.5h2M312 533.5h1M314 533.5h1M319 533.5h2M322 533.5h1M328 533.5h6M343 533.5h2M346 533.5h2M361 533.5h1M371 533.5h1M397 533.5h1M428 533.5h1M482 533.5h2M486 533.5h1M491 533.5h1M495 533.5h1M523 533.5h1M567 533.5h1M588 533.5h2M618 533.5h1M672 533.5h3M687 533.5h2M139 534.5h2M157 534.5h1M170 534.5h1M187 534.5h1M230 534.5h1M235 534.5h1M264 534.5h1M267 534.5h2M271 534.5h4M311 534.5h1M315 534.5h2M318 534.5h1M323 534.5h2M326 534.5h2M334 534.5h2M342 534.5h1M348 534.5h3M359 534.5h2M362 534.5h1M370 534.5h1M398 534.5h1M411 534.5h7M428 534.5h1M484 534.5h2M492 534.5h1M494 534.5h1M524 534.5h1M541 534.5h1M567 534.5h1M619 534.5h1M670 534.5h2M675 534.5h4M686 534.5h1M141 535.5h6M156 535.5h1M171 535.5h2M175 535.5h4M187 535.5h1M231 535.5h2M234 535.5h1M264 535.5h1M266 535.5h1M275 535.5h3M311 535.5h1M317 535.5h1M325 535.5h1M336 535.5h6M351 535.5h4M358 535.5h1M363 535.5h2M367 535.5h3M399 535.5h1M404 535.5h7M418 535.5h1M427 535.5h1M493 535.5h1M525 535.5h5M540 535.5h1M542 535.5h1M566 535.5h1M619 535.5h1M664 535.5h6M679 535.5h7M147 536.5h3M155 536.5h1M173 536.5h2M179 536.5h3M186 536.5h1M233 536.5h1M265 536.5h1M278 536.5h1M305 536.5h2M310 536.5h1M355 536.5h3M365 536.5h2M400 536.5h1M402 536.5h2M419 536.5h1M427 536.5h1M530 536.5h2M539 536.5h1M543 536.5h2M566 536.5h1M620 536.5h1M662 536.5h2M150 537.5h2M154 537.5h1M182 537.5h1M186 537.5h1M278 537.5h1M304 537.5h1M307 537.5h3M401 537.5h1M420 537.5h1M427 537.5h1M532 537.5h3M538 537.5h1M545 537.5h5M566 537.5h1M621 537.5h1M628 537.5h2M649 537.5h1M661 537.5h1M152 538.5h2M183 538.5h3M279 538.5h1M285 538.5h5M303 538.5h1M421 538.5h1M426 538.5h1M535 538.5h3M550 538.5h2M565 538.5h1M622 538.5h2M626 538.5h2M630 538.5h1M636 538.5h3M648 538.5h1M650 538.5h1M659 538.5h2M185 539.5h1M279 539.5h1M284 539.5h1M290 539.5h2M303 539.5h1M422 539.5h1M426 539.5h1M552 539.5h2M565 539.5h1M624 539.5h2M631 539.5h2M634 539.5h2M639 539.5h3M647 539.5h1M651 539.5h2M658 539.5h1M280 540.5h1M283 540.5h1M292 540.5h7M302 540.5h1M423 540.5h1M426 540.5h1M554 540.5h1M563 540.5h2M633 540.5h1M642 540.5h1M647 540.5h1M653 540.5h5M280 541.5h1M283 541.5h1M299 541.5h3M424 541.5h2M555 541.5h2M562 541.5h1M643 541.5h2M646 541.5h1M281 542.5h2M425 542.5h1M557 542.5h5M645 542.5h1M281 543.5h1" fill="none" stroke="#1e90ff" stroke-width="1"/>
</g>
<text x="9.4" y="504.6" fill="#000" font-size="10" textLength="67.5" lengthAdjust="spacingAndGlyphs" stroke="#000" stroke-width="0.1">RSI(14) 53.2319</text>
<rect x="1168" y="494" width="1" height="1" fill="#000"/>
<text x="1170.6" y="503" fill="#000" font-size="10" textLength="15.3" lengthAdjust="spacingAndGlyphs" stroke="#000" stroke-width="0.1">100</text>
<text x="1170.6" y="519" fill="#000" font-size="10" textLength="10.2" lengthAdjust="spacingAndGlyphs" stroke="#000" stroke-width="0.1">70</text>
<text x="1170.6" y="548" fill="#000" font-size="10" textLength="10.2" lengthAdjust="spacingAndGlyphs" stroke="#000" stroke-width="0.1">30</text>
<rect x="1168" y="565" width="1" height="1" fill="#000"/>
<text x="1170.6" y="563" fill="#000" font-size="10" textLength="5.1" lengthAdjust="spacingAndGlyphs" stroke="#000" stroke-width="0.1">0</text>
<rect x="5" y="567" width="1" height="3" fill="#000"/>
<text x="4.5" y="579" fill="#000" font-size="10" textLength="47.3" lengthAdjust="spacingAndGlyphs" stroke="#000" stroke-width="0.1">14 Jul 2021</text>
<rect x="69" y="567" width="1" height="3" fill="#000"/>
<text x="68.5" y="579" fill="#000" font-size="10" textLength="46.8" lengthAdjust="spacingAndGlyphs" stroke="#000" stroke-width="0.1">5 Aug 2021</text>
<rect x="133" y="567" width="1" height="3" fill="#000"/>
<text x="132.5" y="579" fill="#000" font-size="10" textLength="51.9" lengthAdjust="spacingAndGlyphs" stroke="#000" stroke-width="0.1">27 Aug 2021</text>
<rect x="197" y="567" width="1" height="3" fill="#000"/>
<text x="196.5" y="579" fill="#000" font-size="10" textLength="51.9" lengthAdjust="spacingAndGlyphs" stroke="#000" stroke-width="0.1">20 Sep 2021</text>
<rect x="261" y="567" width="1" height="3" fill="#000"/>
<text x="260.5" y="579" fill="#000" font-size="10" textLength="49.8" lengthAdjust="spacingAndGlyphs" stroke="#000" stroke-width="0.1">12 Oct 2021</text>
<rect x="325" y="567" width="1" height="3" fill="#000"/>
<text x="324.5" y="579" fill="#000" font-size="10" textLength="46.8" lengthAdjust="spacingAndGlyphs" stroke="#000" stroke-width="0.1">3 Nov 2021</text>
<rect x="389" y="567" width="1" height="3" fill="#000"/>
<text x="388.5" y="579" fill="#000" font-size="10" textLength="51.9" lengthAdjust="spacingAndGlyphs" stroke="#000" stroke-width="0.1">25 Nov 2021</text>
<rect x="453" y="567" width="1" height="3" fill="#000"/>
<text x="452.5" y="579" fill="#000" font-size="10" textLength="51.9" lengthAdjust="spacingAndGlyphs" stroke="#000" stroke-width="0.1">17 Dec 2021</text>
<rect x="517" y="567" width="1" height="3" fill="#000"/>
<text x="516.5" y="579" fill="#000" font-size="10" textLength="50.4" lengthAdjust="spacingAndGlyphs" stroke="#000" stroke-width="0.1">10 Jan 2022</text>
<rect x="581" y="567" width="1" height="3" fill="#000"/>
<text x="580.5" y="579" fill="#000" font-size="10" textLength="46.3" lengthAdjust="spacingAndGlyphs" stroke="#000" stroke-width="0.1">1 Feb 2022</text>
<rect x="645" y="567" width="1" height="3" fill="#000"/>
<text x="644.5" y="579" fill="#000" font-size="10" textLength="51.4" lengthAdjust="spacingAndGlyphs" stroke="#000" stroke-width="0.1">23 Feb 2022</text>
<rect x="709" y="567" width="1" height="3" fill="#000"/>
<text x="708.5" y="579" fill="#000" font-size="10" textLength="51.4" lengthAdjust="spacingAndGlyphs" stroke="#000" stroke-width="0.1">17 Mar 2022</text>
<rect x="773" y="567" width="1" height="3" fill="#000"/>
<text x="772.5" y="579" fill="#000" font-size="10" textLength="44.8" lengthAdjust="spacingAndGlyphs" stroke="#000" stroke-width="0.1">8 Apr 2022</text>
<rect x="837" y="567" width="1" height="3" fill="#000"/>
<text x="836.5" y="579" fill="#000" font-size="10" textLength="47.8" lengthAdjust="spacingAndGlyphs" stroke="#000" stroke-width="0.1">2 May 2022</text>
<rect x="901" y="567" width="1" height="3" fill="#000"/>
<text x="900.5" y="579" fill="#000" font-size="10" textLength="52.9" lengthAdjust="spacingAndGlyphs" stroke="#000" stroke-width="0.1">24 May 2022</text>
<g id="oct">
<rect x="6" y="44" width="223" height="59" fill="#fff"/>
<rect x="8" y="45" width="52" height="24" fill="url(#gb)"/>
<rect x="8" y="69" width="109" height="33" fill="url(#gb2)"/>
<rect x="175" y="45" width="52" height="24" fill="url(#gb)"/>
<rect x="119" y="69" width="108" height="33" fill="url(#gb2)"/>
<rect x="12" y="69" width="44" height="1" fill="#9a9aff"/>
<rect x="179" y="69" width="44" height="1" fill="#9a9aff"/>
<rect x="60" y="45" width="115" height="24" fill="#fff"/>
<rect x="62.5" y="45.5" width="110" height="21" fill="#fff" stroke="#a8a8a8"/>
<rect x="64" y="47" width="19" height="18" fill="url(#gg)"/>
<rect x="152" y="47" width="19" height="18" fill="url(#gg)"/>
<rect x="83" y="46" width="1" height="20" fill="#b8b8b8"/>
<rect x="151" y="46" width="1" height="20" fill="#b8b8b8"/>
<path d="M70 54h5v1h-1v1h-1v1h-1v-1h-1v-1h-1z" fill="#4a5a9a"/>
<path d="M159 57h5v-1h-1v-1h-1v-1h-1v1h-1v1h-1z" fill="#4a5a9a"/>
</g>
<text x="20.7" y="61" fill="#fff" font-size="12" textLength="25.2" lengthAdjust="spacingAndGlyphs">SELL</text>
<text x="188.6" y="61" fill="#fff" font-size="12" textLength="23.3" lengthAdjust="spacingAndGlyphs">BUY</text>
<text x="147.5" y="60" fill="#000" font-size="12" textLength="23" lengthAdjust="spacingAndGlyphs" text-anchor="end">2.00</text>
<text x="28.1" y="96.5" fill="#fff" font-size="11" textLength="24" lengthAdjust="spacingAndGlyphs" font-weight="bold">6.69</text>
<text x="138.1" y="96.5" fill="#fff" font-size="11" textLength="24" lengthAdjust="spacingAndGlyphs" font-weight="bold">6.70</text>
<text x="57.3" y="96.5" fill="#fff" font-size="33" textLength="33" lengthAdjust="spacingAndGlyphs">66</text>
<text x="166.6" y="96.5" fill="#fff" font-size="33" textLength="33.4" lengthAdjust="spacingAndGlyphs">18</text>
<text x="95" y="81.3" fill="#fff" font-size="11.5" textLength="7.2" lengthAdjust="spacingAndGlyphs" font-weight="bold">4</text>
<text x="206.4" y="81.3" fill="#fff" font-size="11.5" textLength="6.6" lengthAdjust="spacingAndGlyphs" font-weight="bold">1</text>
</svg>
</div>
<div class="tabs">
<div class="line"></div><div class="hl"></div><div class="lb"></div><div class="lb2"></div><div class="foot"></div>
<div class="abox"></div>
<span class="tab" style="left:17.4px;letter-spacing:-0.030px">EURUSD-,Daily</span>
<span class="tab" style="left:124.4px;letter-spacing:0.070px">AUDUSD-,Daily</span>
<span class="tab" style="left:234.2px;letter-spacing:-0.062px">USDCHF-,Daily</span>
<span class="tab" style="left:341.4px;letter-spacing:0.032px">USDCAD-,Daily</span>
<span class="tab active" style="left:450.5px;letter-spacing:0.135px">USDCNH-,Daily</span>
<span class="tab" style="left:561.1px;letter-spacing:0.101px">XAUUSD-,H4</span>
<span class="tab" style="left:657.1px;letter-spacing:0.287px">UKOil-,H1</span>
<span class="tab" style="left:738px;letter-spacing:0.180px">USOil-,Daily</span>
<span class="tab" style="left:828.2px;letter-spacing:0.214px">HK50-,H1</span>
<span class="tab" style="left:904px;letter-spacing:-0.227px">EURCHF-,H1</span>
<span class="tab" style="left:998.1px;letter-spacing:0.232px">USOil-,H4</span>
<span class="tab" style="left:1077.3px;letter-spacing:0.298px">UKOil-,H4</span>
<i class="sep" style="left:114px"></i>
<i class="sep" style="left:222px"></i>
<i class="sep" style="left:330px"></i>
<i class="sep" style="left:646px"></i>
<i class="sep" style="left:726px"></i>
<i class="sep" style="left:818px"></i>
<i class="sep" style="left:894px"></i>
<i class="sep" style="left:987px"></i>
<i class="sep" style="left:1066px"></i>
<i class="sep" style="left:1146px"></i>
<i class="arl"></i><i class="arr"></i>
</div>
</body></html>
